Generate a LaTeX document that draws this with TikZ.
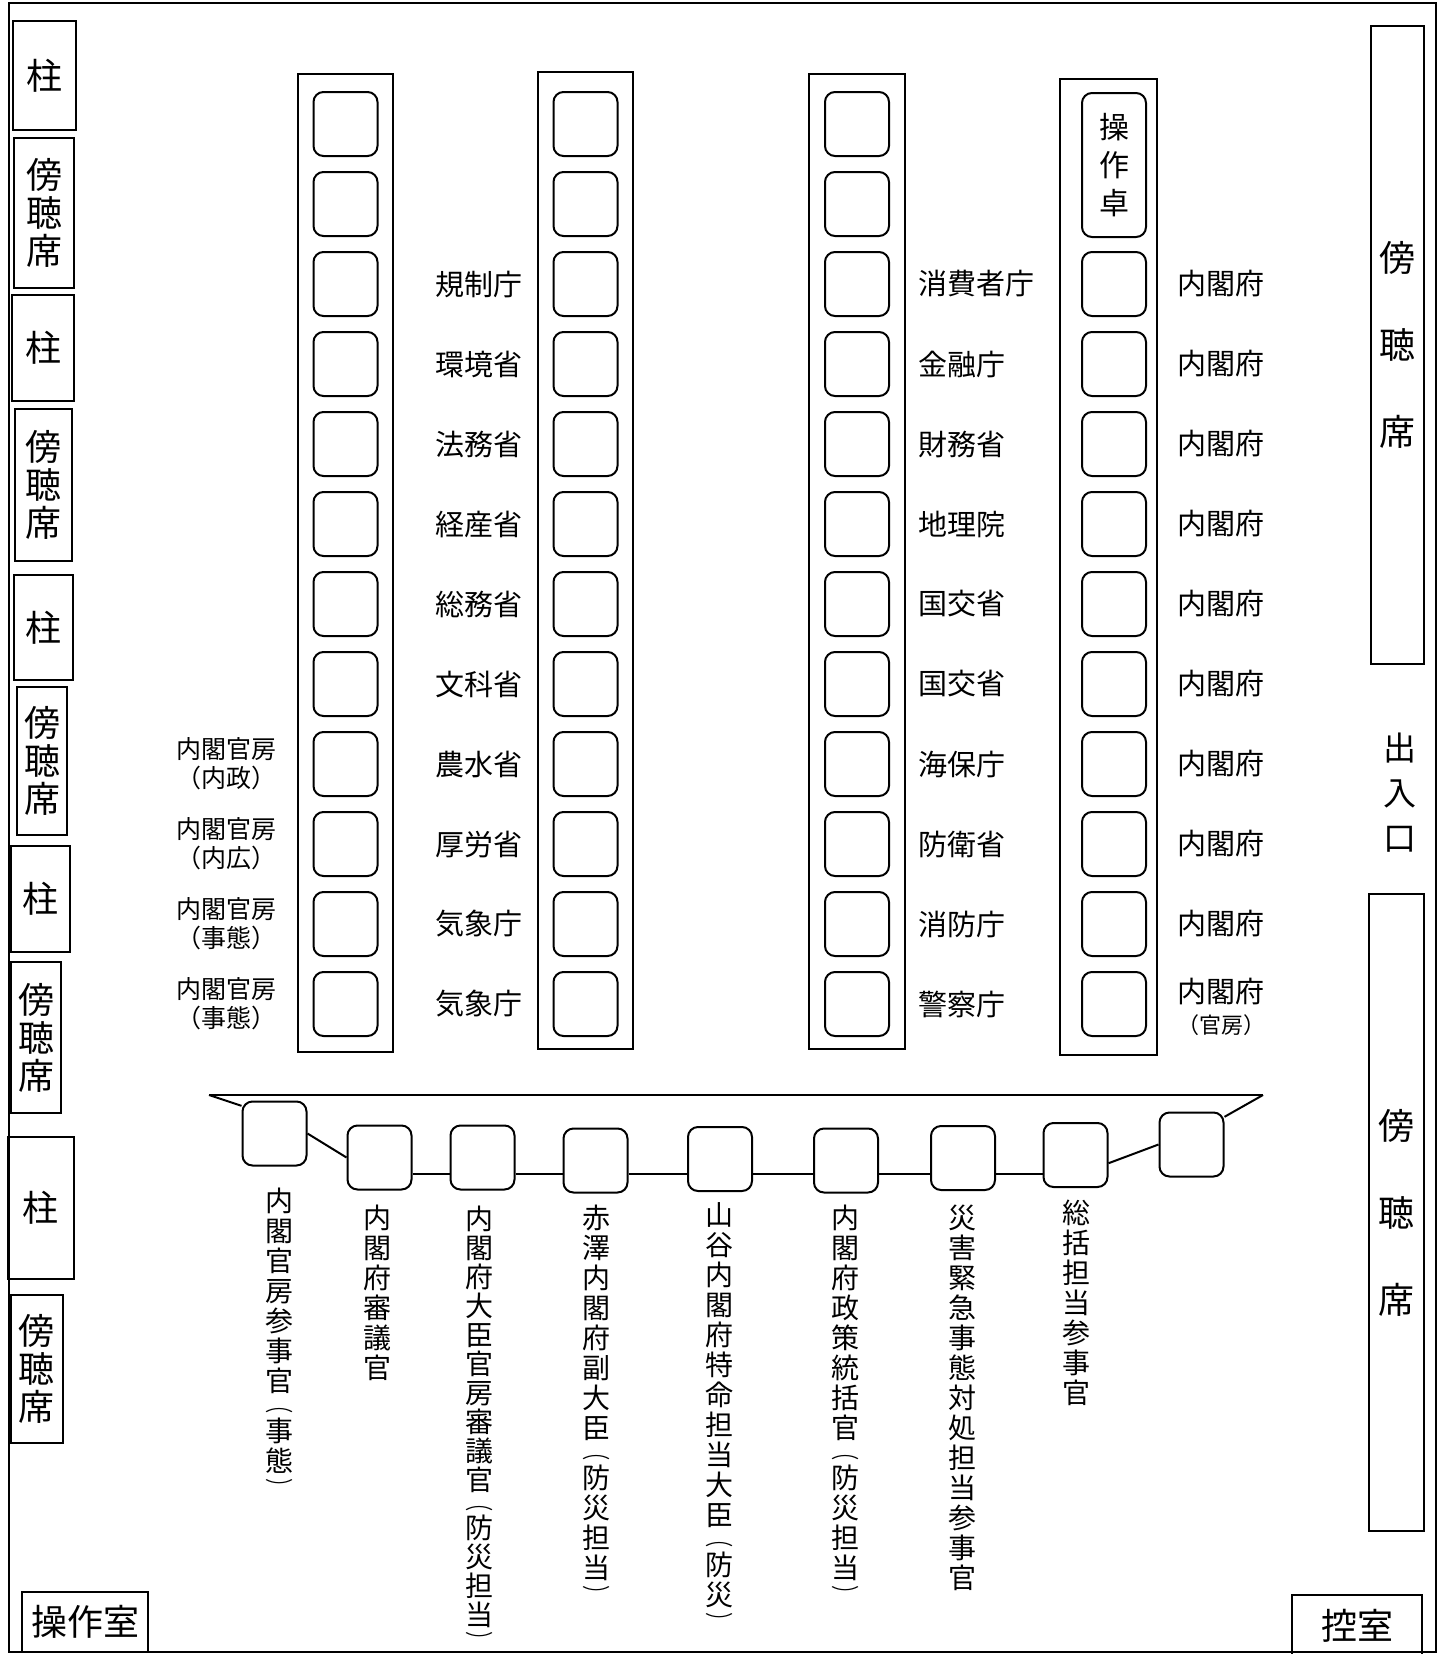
\documentclass[tikz,border=0pt]{standalone}
\usepackage{graphicx}
\usepackage{fontspec}
\setmainfont{Noto Sans CJK JP}
\usetikzlibrary{positioning}

\newcommand{\vopen}{\scalebox{1}[0.6]{︵}}
\newcommand{\vclose}{\scalebox{1}[0.6]{︶}}

\tikzset{
  seat/.style    = {shape=rectangle, rounded corners=10pt, draw,
                    line width=2pt, inner sep=0pt,
                    minimum width=64pt, minimum height=64pt},
  desk/.style    = {draw, line width=2pt},
  wallbox/.style = {shape=rectangle, draw, line width=2pt, inner sep=0pt,
                    align=center, font=\fontsize{36}{38}\selectfont},
  dept/.style    = {inner sep=0pt, font=\fontsize{29}{31}\selectfont},
  office/.style  = {inner sep=0pt, align=center,
                    font=\fontsize{25}{29}\selectfont},
  vlabel/.style  = {inner sep=0pt, anchor=north, align=center,
                    font=\fontsize{28}{30}\selectfont},
  link/.style    = {draw, line width=2pt}
}

\begin{document}
\begin{tikzpicture}[x=1pt, y=-1pt]
  \useasboundingbox (0,0) rectangle (1448,1654);
  \draw[line width=1.6pt] (9,3) rectangle (1436,1652);

  \node[wallbox, minimum width=63pt, minimum height=109pt] (p1) at (44.5,75.5) {柱};
  \node[wallbox, minimum width=60pt, minimum height=150pt] (g1) at (44,213) {傍\\聴\\席};
  \node[wallbox, minimum width=62pt, minimum height=106pt] (p2) at (43,348) {柱};
  \node[wallbox, minimum width=57pt, minimum height=152pt] (g2) at (43.5,485) {傍\\聴\\席};
  \node[wallbox, minimum width=59pt, minimum height=105pt] (p3) at (43.5,627.5) {柱};
  \node[wallbox, minimum width=50pt, minimum height=148pt] (g3) at (42,761) {傍\\聴\\席};
  \node[wallbox, minimum width=59pt, minimum height=106pt] (p4) at (40.5,899) {柱};
  \node[wallbox, minimum width=50pt, minimum height=151pt] (g4) at (36,1037.5) {傍\\聴\\席};
  \node[wallbox, minimum width=66pt, minimum height=142pt] (p5) at (41,1208) {柱};
  \node[wallbox, minimum width=52pt, minimum height=148pt] (g5) at (37,1369) {傍\\聴\\席};
  \node[wallbox, minimum width=126pt, minimum height=60pt] (ops) at (85,1622) {操作室};

  \node[wallbox, minimum width=53pt, minimum height=638pt,
        font=\fontsize{36}{87}\selectfont] (g6) at (1397.5,345) {傍\\聴\\席};
  \node[inner sep=0pt, align=center, font=\fontsize{33}{45}\selectfont]
        (door) at (1400,793) {出\\入\\口};
  \node[wallbox, minimum width=55pt, minimum height=637pt,
        font=\fontsize{36}{87}\selectfont] (g7) at (1396.5,1212.5) {傍\\聴\\席};
  \node[wallbox, minimum width=130pt, minimum height=61pt] (anteroom) at (1357,1625.5) {控室};

  \draw[desk] (298,74) rectangle (393,1052);
  \draw[desk] (538,72) rectangle (633,1049);
  \draw[desk] (809,74) rectangle (905,1049);
  \draw[desk] (1060,79) rectangle (1157,1055);

  \foreach \i in {1,...,12} {
    \node[seat] (a\i) at (345.5,44+80*\i) {};
    \node[seat] (b\i) at (585.5,44+80*\i) {};
    \node[seat] (c\i) at (857,44+80*\i) {};
  }
  \node[seat, minimum height=144pt, align=center,
        font=\fontsize{30}{38}\selectfont] (d1) at (1114,165) {操\\作\\卓};
  \foreach \i in {3,...,12}
    \node[seat] (d\i) at (1114,44+80*\i) {};

  \node[office, left=36pt of a9]  (la9)  {内閣官房\\（内政）};
  \node[office, left=36pt of a10] (la10) {内閣官房\\（内広）};
  \node[office, left=36pt of a11] (la11) {内閣官房\\（事態）};
  \node[office, left=36pt of a12] (la12) {内閣官房\\（事態）};

  \foreach \i/\t in {3/規制庁, 4/環境省, 5/法務省, 6/経産省, 7/総務省,
                     8/文科省, 9/農水省, 10/厚労省, 11/気象庁, 12/気象庁}
    \node[dept, left=30pt of b\i] (lb\i) {\t};

  \foreach \i/\t in {3/消費者庁, 4/金融庁, 5/財務省, 6/地理院, 7/国交省,
                     8/国交省, 9/海保庁, 10/防衛省, 11/消防庁, 12/警察庁}
    \node[dept, right=28pt of c\i] (lc\i) {\t};

  \foreach \i in {3,...,11}
    \node[dept, right=30pt of d\i] (ld\i) {内閣府};
  \node[dept, align=center, right=30pt of d12, yshift=-3pt] (ld12)
        {内閣府\\{\fontsize{22}{26}\selectfont （官房）}};

  \node[seat] (s1) at (274.5,1133.5) {};
  \node[seat] (s2) at (379.5,1157.5) {};
  \node[seat] (s3) at (482.5,1157.5) {};
  \node[seat] (s4) at (595.5,1160.5) {};
  \node[seat] (s5) at (720,1159) {};
  \node[seat] (s6) at (846,1160.5) {};
  \node[seat] (s7) at (963,1158) {};
  \node[seat] (s8) at (1075.5,1155) {};
  \node[seat] (s9) at (1191.5,1144.5) {};

  \coordinate (tl) at (209,1095);
  \coordinate (tr) at (1263,1095);
  \coordinate (rail) at (0,1174);
  \draw[link] (tl) -- (tr);
  \draw[link] (tl) -- (s1.140);
  \draw[link] (s1.east) -- (s2.west);
  \foreach \u/\v in {s2/s3, s3/s4, s4/s5, s5/s6, s6/s7, s7/s8}
    \draw[link] (\u.east |- rail) -- (\v.west |- rail);
  \draw[link] (s8.-14) -- (s9.west);
  \draw[link] (s9.40) -- (tr);

  \node[vlabel] (v1) at (279,1188)
        {内\\閣\\官\\房\\参\\事\\官\\[-10pt]\vopen\\事\\態\\[-8pt]\vclose};
  \node[vlabel] (v2) at (377,1205) {内\\閣\\府\\審\\議\\官};
  \node[vlabel, font=\fontsize{28}{29}\selectfont] (v3) at (479,1206)
        {内\\閣\\府\\大\\臣\\官\\房\\審\\議\\官\\[-10pt]\vopen\\防\\災\\担\\当\\[-8pt]\vclose};
  \node[vlabel] (v4) at (596,1205)
        {赤\\澤\\内\\閣\\府\\副\\大\\臣\\[-10pt]\vopen\\防\\災\\担\\当\\[-8pt]\vclose};
  \node[vlabel] (v5) at (719,1202)
        {山\\谷\\内\\閣\\府\\特\\命\\担\\当\\大\\臣\\[-10pt]\vopen\\防\\災\\[-8pt]\vclose};
  \node[vlabel] (v6) at (845,1205)
        {内\\閣\\府\\政\\策\\統\\括\\官\\[-10pt]\vopen\\防\\災\\担\\当\\[-8pt]\vclose};
  \node[vlabel] (v7) at (962,1205) {災\\害\\緊\\急\\事\\態\\対\\処\\担\\当\\参\\事\\官};
  \node[vlabel] (v8) at (1076,1200) {総\\括\\担\\当\\参\\事\\官};
\end{tikzpicture}
\end{document}
